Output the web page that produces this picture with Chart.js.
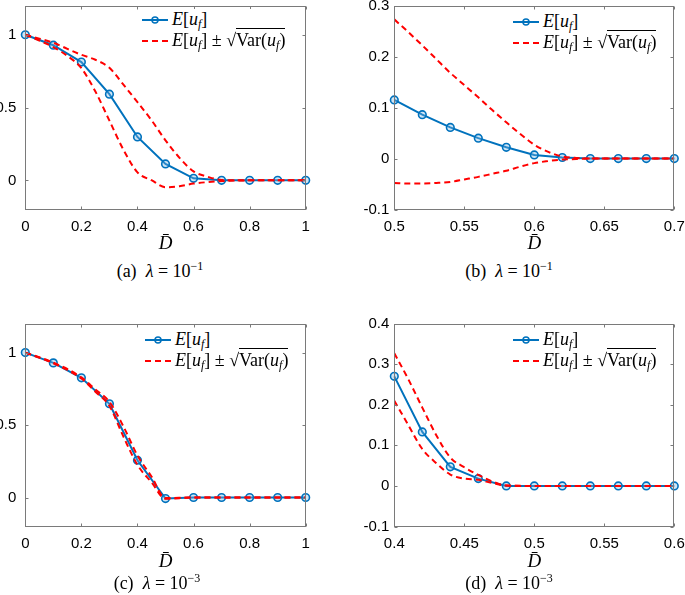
<!DOCTYPE html>
<html>
<head>
<meta charset="utf-8">
<script src="https://cdn.jsdelivr.net/npm/chart.js@4.4.1/dist/chart.umd.min.js"></script>
<style>
  html, body { margin:0; padding:0; background:#fff; }
  body { width:685px; height:595px; position:relative; overflow:hidden; }
  canvas { position:absolute; }
  .leg { position:absolute; font-family:'Liberation Serif','Times New Roman',serif; font-size:18px; color:#000; background:#fff; }
  .row { display:flex; align-items:center; height:21px; white-space:nowrap; }
  .row svg { margin-right:4px; }
  .leg sub { font-size:12px; vertical-align:-3px; line-height:0; }
  .rad { border-top:1.2px solid #000; padding-top:1px; }
  .cap { position:absolute; transform:translate(-50%,-50%); font-family:'Liberation Serif','Times New Roman',serif; font-size:18px; white-space:nowrap; color:#000; }
  .cap sup { font-size:12px; vertical-align:7px; line-height:0; }
</style>
</head>
<body>
<canvas id="ca" width="335" height="255" style="left:0px;top:0px"></canvas>
<canvas id="cb" width="345" height="255" style="left:340px;top:0px"></canvas>
<canvas id="cc" width="335" height="255" style="left:0px;top:318px"></canvas>
<canvas id="cd" width="345" height="255" style="left:340px;top:318px"></canvas>

<div class="leg" style="left:142px;top:9px">
  <div class="row"><svg width="26" height="12"><line x1="0" y1="6" x2="26" y2="6" stroke="#0072BD" stroke-width="2"/><circle cx="13" cy="6" r="3" fill="none" stroke="#0072BD" stroke-width="1.5"/></svg><span><i>E</i>[<i>u</i><sub><i>f</i></sub>]</span></div>
  <div class="row"><svg width="26" height="12"><line x1="0" y1="6" x2="26" y2="6" stroke="#FF0000" stroke-width="2" stroke-dasharray="6,4"/></svg><span><i>E</i>[<i>u</i><sub><i>f</i></sub>] ± √<span class="rad">Var(<i>u</i><sub><i>f</i></sub>)</span></span></div>
</div>
<div class="leg" style="left:513px;top:11px">
  <div class="row"><svg width="26" height="12"><line x1="0" y1="6" x2="26" y2="6" stroke="#0072BD" stroke-width="2"/><circle cx="13" cy="6" r="3" fill="none" stroke="#0072BD" stroke-width="1.5"/></svg><span><i>E</i>[<i>u</i><sub><i>f</i></sub>]</span></div>
  <div class="row"><svg width="26" height="12"><line x1="0" y1="6" x2="26" y2="6" stroke="#FF0000" stroke-width="2" stroke-dasharray="6,4"/></svg><span><i>E</i>[<i>u</i><sub><i>f</i></sub>] ± √<span class="rad">Var(<i>u</i><sub><i>f</i></sub>)</span></span></div>
</div>
<div class="leg" style="left:145px;top:329px">
  <div class="row"><svg width="26" height="12"><line x1="0" y1="6" x2="26" y2="6" stroke="#0072BD" stroke-width="2"/><circle cx="13" cy="6" r="3" fill="none" stroke="#0072BD" stroke-width="1.5"/></svg><span><i>E</i>[<i>u</i><sub><i>f</i></sub>]</span></div>
  <div class="row"><svg width="26" height="12"><line x1="0" y1="6" x2="26" y2="6" stroke="#FF0000" stroke-width="2" stroke-dasharray="6,4"/></svg><span><i>E</i>[<i>u</i><sub><i>f</i></sub>] ± √<span class="rad">Var(<i>u</i><sub><i>f</i></sub>)</span></span></div>
</div>
<div class="leg" style="left:513px;top:329px">
  <div class="row"><svg width="26" height="12"><line x1="0" y1="6" x2="26" y2="6" stroke="#0072BD" stroke-width="2"/><circle cx="13" cy="6" r="3" fill="none" stroke="#0072BD" stroke-width="1.5"/></svg><span><i>E</i>[<i>u</i><sub><i>f</i></sub>]</span></div>
  <div class="row"><svg width="26" height="12"><line x1="0" y1="6" x2="26" y2="6" stroke="#FF0000" stroke-width="2" stroke-dasharray="6,4"/></svg><span><i>E</i>[<i>u</i><sub><i>f</i></sub>] ± √<span class="rad">Var(<i>u</i><sub><i>f</i></sub>)</span></span></div>
</div>

<div class="cap" style="left:160px;top:271px">(a)&nbsp; <i>λ</i> = 10<sup>−1</sup></div>
<div class="cap" style="left:509px;top:271px">(b)&nbsp; <i>λ</i> = 10<sup>−1</sup></div>
<div class="cap" style="left:157px;top:583px">(c)&nbsp; <i>λ</i> = 10<sup>−3</sup></div>
<div class="cap" style="left:509px;top:583px">(d)&nbsp; <i>λ</i> = 10<sup>−3</sup></div>

<script>
// ---------- Panel (a): lambda = 1e-1, full range ----------
const aX      = [0, 0.1, 0.2, 0.3, 0.4, 0.5, 0.6, 0.7, 0.8, 0.9, 1.0];
const aMean   = [1.0, 0.928, 0.812, 0.592, 0.298, 0.113, 0.014, 0, 0, 0, 0];
const aBandX  = [0, 0.05, 0.1, 0.15, 0.2, 0.25, 0.3, 0.35, 0.4, 0.45, 0.5, 0.55, 0.6, 0.65, 0.7, 0.8, 0.9, 1.0];
const aUpper  = [1.0, 0.973, 0.945, 0.903, 0.862, 0.828, 0.773, 0.657, 0.537, 0.413, 0.275, 0.155, 0.062, 0.025, 0.003, 0, 0, 0];
const aLower  = [1.0, 0.960, 0.915, 0.855, 0.770, 0.610, 0.410, 0.210, 0.055, 0.001, -0.047, -0.040, -0.022, -0.012, -0.005, 0, 0, 0];
const aXTicks = [0, 0.2, 0.4, 0.6, 0.8, 1];
const aYTicks = [0, 0.5, 1];

// ---------- Panel (b): lambda = 1e-1, zoom ----------
const bX      = [0.5, 0.52, 0.54, 0.56, 0.58, 0.6, 0.62, 0.64, 0.66, 0.68, 0.7];
const bMean   = [0.115, 0.086, 0.061, 0.040, 0.022, 0.007, 0.002, 0, 0, 0, 0];
const bBandX  = [0.5, 0.51, 0.52, 0.53, 0.54, 0.55, 0.56, 0.57, 0.58, 0.59, 0.6, 0.61, 0.62, 0.63, 0.64, 0.7];
const bUpper  = [0.273, 0.248, 0.222, 0.195, 0.168, 0.144, 0.120, 0.095, 0.071, 0.048, 0.027, 0.013, 0.004, 0.001, 0, 0];
const bLower  = [-0.048, -0.049, -0.049, -0.048, -0.046, -0.041, -0.036, -0.030, -0.024, -0.016, -0.009, -0.005, -0.002, -0.001, 0, 0];
const bXTicks = [0.5, 0.55, 0.6, 0.65, 0.7];
const bYTicks = [-0.1, 0, 0.1, 0.2, 0.3];

// ---------- Panel (c): lambda = 1e-3, full range ----------
const cX      = [0, 0.1, 0.2, 0.3, 0.4, 0.5, 0.6, 0.7, 0.8, 0.9, 1.0];
const cMean   = [1.0, 0.929, 0.826, 0.647, 0.257, -0.007, 0, 0, 0, 0, 0];
const cBandX  = [0, 0.1, 0.2, 0.25, 0.3, 0.35, 0.4, 0.45, 0.5, 0.6, 0.7, 0.8, 0.9, 1.0];
const cUpper  = [1.0, 0.931, 0.829, 0.745, 0.660, 0.490, 0.290, 0.145, -0.004, 0, 0, 0, 0, 0];
const cLower  = [1.0, 0.926, 0.821, 0.730, 0.632, 0.420, 0.225, 0.105, -0.009, 0, 0, 0, 0, 0];
const cXTicks = [0, 0.2, 0.4, 0.6, 0.8, 1];
const cYTicks = [0, 0.5, 1];

// ---------- Panel (d): lambda = 1e-3, zoom ----------
const dX      = [0.4, 0.42, 0.44, 0.46, 0.48, 0.5, 0.52, 0.54, 0.56, 0.58, 0.6];
const dMean   = [0.270, 0.133, 0.047, 0.018, 0, 0, 0, 0, 0, 0, 0];
const dBandX  = [0.4, 0.41, 0.42, 0.43, 0.44, 0.45, 0.46, 0.47, 0.48, 0.5, 0.52, 0.54, 0.56, 0.58, 0.6];
const dUpper  = [0.327, 0.263, 0.193, 0.125, 0.070, 0.046, 0.027, 0.011, 0.001, 0, 0, 0, 0, 0, 0];
const dLower  = [0.210, 0.150, 0.091, 0.056, 0.028, 0.018, 0.015, 0.007, 0.001, 0, 0, 0, 0, 0, 0];
const dXTicks = [0.4, 0.45, 0.5, 0.55, 0.6];
const dYTicks = [-0.1, 0, 0.1, 0.2, 0.3, 0.4];

const BLUE = '#0072BD';
const RED = '#FF0000';
const TICK_FONT = { family: "'Liberation Sans', Arial, Helvetica, sans-serif", size: 15 };
const AXIS_COLOR = '#7a7a7a';

function fmt(v) { return String(Math.round(v * 1000) / 1000); }
function pts(xs, ys) { return xs.map((x, i) => ({ x: x, y: ys[i] })); }

const boxPlugin = {
  id: 'matlabBox',
  afterDraw(chart) {
    const { ctx, chartArea: a, scales } = chart;
    ctx.save();
    ctx.strokeStyle = AXIS_COLOR;
    ctx.lineWidth = 1;
    const L = Math.round(a.left) + 0.5, R = Math.round(a.right) - 0.5;
    const T = Math.round(a.top) + 0.5, B = Math.round(a.bottom) - 0.5;
    ctx.strokeRect(L, T, R - L, B - T);
    const len = 3;
    ctx.beginPath();
    scales.x.ticks.forEach(t => {
      const px = Math.round(scales.x.getPixelForValue(t.value)) + 0.5;
      ctx.moveTo(px, B); ctx.lineTo(px, B - len);
      ctx.moveTo(px, T); ctx.lineTo(px, T + len);
    });
    scales.y.ticks.forEach(t => {
      const py = Math.round(scales.y.getPixelForValue(t.value)) + 0.5;
      ctx.moveTo(L, py); ctx.lineTo(L + len, py);
      ctx.moveTo(R, py); ctx.lineTo(R - len, py);
    });
    ctx.stroke();
    ctx.restore();
  }
};

function makeChart(id, cfg) {
  const canvas = document.getElementById(id);
  return new Chart(canvas, {
    type: 'line',
    data: {
      datasets: [
        {
          label: 'E[u_f] + sd',
          data: pts(cfg.bandX, cfg.upper),
          borderColor: RED, borderWidth: 2, borderDash: [6, 4],
          pointRadius: 0, fill: false, cubicInterpolationMode: 'monotone', order: 0
        },
        {
          label: 'E[u_f] - sd',
          data: pts(cfg.bandX, cfg.lower),
          borderColor: RED, borderWidth: 2, borderDash: [6, 4],
          pointRadius: 0, fill: false, cubicInterpolationMode: 'monotone', order: 0
        },
        {
          label: 'E[u_f]',
          data: pts(cfg.x, cfg.mean),
          borderColor: BLUE, borderWidth: 2,
          pointRadius: 3.8, pointBorderWidth: 1.6, pointBorderColor: BLUE,
          pointBackgroundColor: 'rgba(120,180,225,0.35)', pointStyle: 'circle',
          tension: 0, fill: false, clip: false, order: 1
        }
      ]
    },
    options: {
      responsive: false,
      animation: false,
      devicePixelRatio: 1,
      layout: { padding: { top: cfg.padTop, right: cfg.padRight, bottom: 0, left: 0 } },
      plugins: { legend: { display: false }, tooltip: { enabled: false }, title: { display: false } },
      scales: {
        x: {
          type: 'linear', position: 'bottom',
          min: cfg.xMin, max: cfg.xMax,
          afterBuildTicks(s) { s.ticks = cfg.xTicks.map(v => ({ value: v })); },
          afterFit(s) { s.height = cfg.xAxisH; s.paddingLeft = 0; s.paddingRight = 0; },
          grid: { display: false, drawTicks: false },
          border: { display: false },
          ticks: { callback: v => fmt(v), font: TICK_FONT, color: '#000', padding: 8.5, maxRotation: 0, autoSkip: false },
          title: {
            display: true, text: 'D\u0304', color: '#000',
            font: { family: "'Liberation Serif', 'Times New Roman', serif", style: 'italic', size: 19 },
            padding: { top: 0, bottom: 0 }
          }
        },
        y: {
          type: 'linear', position: 'left',
          min: cfg.yMin, max: cfg.yMax,
          afterBuildTicks(s) { s.ticks = cfg.yTicks.map(v => ({ value: v })); },
          afterFit(s) { s.width = cfg.yAxisW; s.paddingTop = 0; s.paddingBottom = 0; },
          grid: { display: false, drawTicks: false },
          border: { display: false },
          ticks: { callback: v => fmt(v), font: TICK_FONT, color: '#000', padding: cfg.yPad, autoSkip: false }
        }
      }
    },
    plugins: [boxPlugin]
  });
}

makeChart('ca', { x: aX, mean: aMean, bandX: aBandX, upper: aUpper, lower: aLower,
  xTicks: aXTicks, yTicks: aYTicks, xMin: 0, xMax: 1, yMin: -0.2, yMax: 1.2,
  padTop: 5, padRight: 29.3, yAxisW: 25.3, xAxisH: 45.5, yPad: 9 });
makeChart('cb', { x: bX, mean: bMean, bandX: bBandX, upper: bUpper, lower: bLower,
  xTicks: bXTicks, yTicks: bYTicks, xMin: 0.5, xMax: 0.7, yMin: -0.1, yMax: 0.3,
  padTop: 5, padRight: 10.7, yAxisW: 54.3, xAxisH: 45.5, yPad: 5 });
makeChart('cc', { x: cX, mean: cMean, bandX: cBandX, upper: cUpper, lower: cLower,
  xTicks: cXTicks, yTicks: cYTicks, xMin: 0, xMax: 1, yMin: -0.2, yMax: 1.2,
  padTop: 5, padRight: 29.3, yAxisW: 25.3, xAxisH: 46.5, yPad: 9 });
makeChart('cd', { x: dX, mean: dMean, bandX: dBandX, upper: dUpper, lower: dLower,
  xTicks: dXTicks, yTicks: dYTicks, xMin: 0.4, xMax: 0.6, yMin: -0.1, yMax: 0.4,
  padTop: 5, padRight: 10.7, yAxisW: 54.3, xAxisH: 46.5, yPad: 5 });
</script>
</body>
</html>
